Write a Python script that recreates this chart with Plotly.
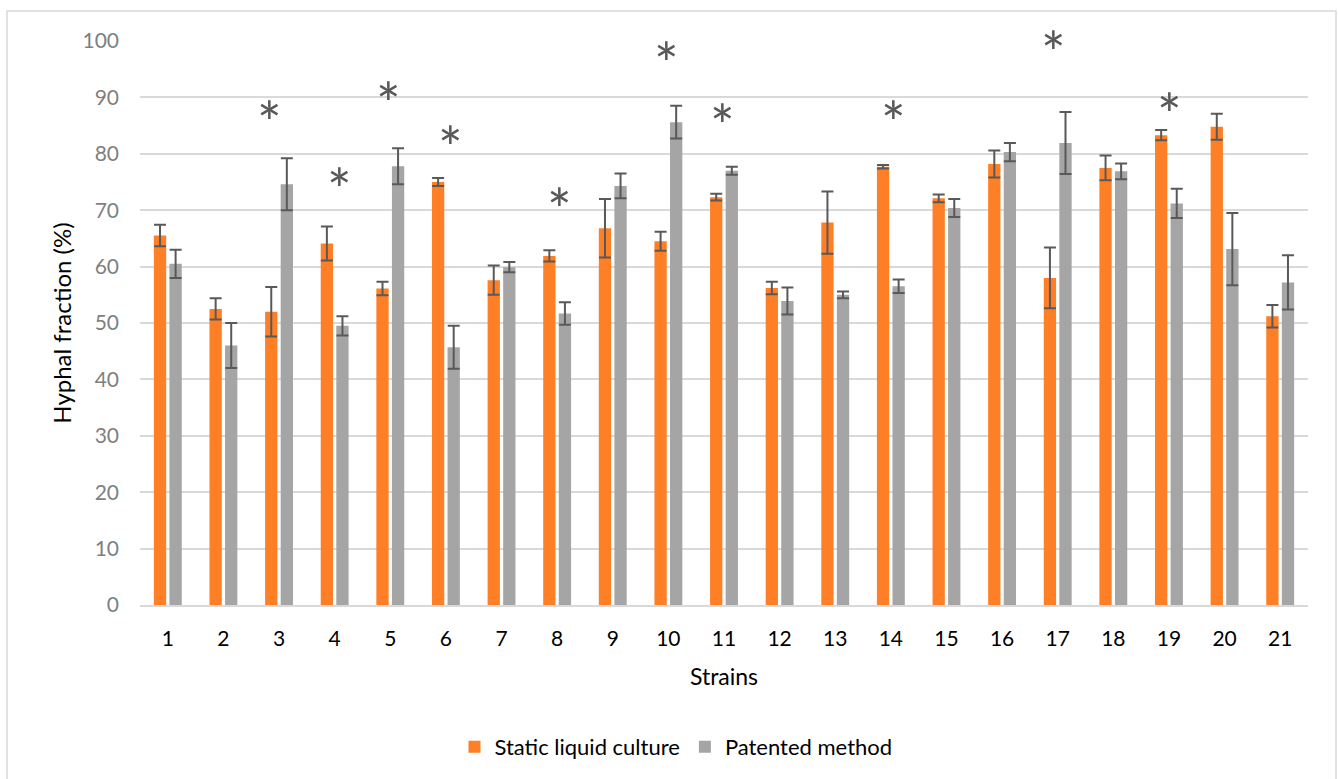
import plotly.graph_objects as go

strains = [str(i) for i in range(1, 22)]
static_mean = [65.5, 52.5, 52.0, 64.1, 56.1, 75.0, 57.6, 61.9, 66.8, 64.5, 72.3,
               56.2, 67.8, 77.7, 72.1, 78.2, 58.0, 77.5, 83.3, 84.8, 51.2]
static_err = [1.9, 1.9, 4.4, 3.0, 1.2, 0.7, 2.6, 1.0, 5.2, 1.7, 0.6,
              1.1, 5.5, 0.3, 0.7, 2.4, 5.4, 2.2, 0.9, 2.3, 2.0]
patent_mean = [60.5, 46.0, 74.6, 49.5, 77.8, 45.7, 59.9, 51.7, 74.3, 85.6, 77.0,
               53.9, 55.0, 56.5, 70.4, 80.3, 81.9, 76.9, 71.2, 63.1, 57.2]
patent_err = [2.5, 4.0, 4.6, 1.7, 3.2, 3.8, 0.9, 2.0, 2.2, 2.9, 0.7,
              2.4, 0.6, 1.2, 1.6, 1.6, 5.5, 1.4, 2.6, 6.4, 4.8]
star_strains = ["3", "4", "5", "6", "8", "10", "11", "14", "17", "19"]
star_level = [87.9, 76.0, 91.3, 83.4, 72.4, 98.3, 87.4, 87.8, 100.2, 89.3]

# style: small horizontal nudges of the asterisks (px)
star_xshift = [-10, 5, -2, 5, 2, -2, -2, 3, -4, 1]

ORANGE = "#FF7F27"
GRAY = "#A5A5A5"
ERR = "#595959"
FONT = "Lato"

W, H = 1338, 779
L, R, T, B = 140, 30, 41, 173
pw, ph = W - L - R, H - T - B
YMAX = 100
px_per_unit = ph / YMAX

def px2paper_x(px):
    return (px - L) / pw

def px2paper_y(py):
    return (H - B - py) / ph

fig = go.Figure()
fig.add_trace(go.Bar(
    x=strains, y=static_mean, name="Static liquid culture",
    marker=dict(color=ORANGE, line=dict(width=0)),
    error_y=dict(type="data", array=static_err, color=ERR, thickness=2, width=6),
))
fig.add_trace(go.Bar(
    x=strains, y=patent_mean, name="Patented method",
    marker=dict(color=GRAY, line=dict(width=0)),
    error_y=dict(type="data", array=patent_err, color=ERR, thickness=2, width=6),
))

for s, lv, dx in zip(star_strains, star_level, star_xshift):
    y_in = min(lv, YMAX - 0.01)
    extra = (lv - y_in) * px_per_unit
    fig.add_annotation(x=strains.index(s), y=y_in, text="*", showarrow=False, xshift=dx,
                       yanchor="middle", yshift=-12 + extra,
                       font=dict(family=FONT, size=58, color=ERR))

fig.add_shape(type="rect", xref="paper", yref="paper",
              x0=px2paper_x(7), x1=px2paper_x(1336),
              y0=px2paper_y(800), y1=px2paper_y(11),
              line=dict(color="#D9D9D9", width=1.5), fillcolor="rgba(0,0,0,0)",
              layer="below")

fig.update_layout(
    width=W, height=H,
    margin=dict(l=L, r=R, t=T, b=B),
    paper_bgcolor="white", plot_bgcolor="white",
    barmode="group", bargap=0.44, bargroupgap=0.21,
    font=dict(family=FONT, size=22, color="#000000"),
    showlegend=True,
    legend=dict(orientation="h", x=px2paper_x(676), xanchor="center", y=px2paper_y(747),
                yanchor="middle", font=dict(family=FONT, size=22, color="#000000"),
                traceorder="normal"),
    xaxis=dict(
        type="category", showgrid=False, showline=True, linecolor="#D9D9D9",
        linewidth=2, ticks="", tickfont=dict(family=FONT, size=21, color="#000000"),
        ticklabelstandoff=14,
        title=dict(text="Strains", font=dict(family=FONT, size=23, color="#000000"),
                   standoff=20),
    ),
    yaxis=dict(
        range=[0, YMAX], dtick=10, showgrid=True, gridcolor="#D9D9D9", gridwidth=1.5,
        zeroline=False, showline=False, ticks="",
        tickfont=dict(family=FONT, size=21, color="#7F7F7F"),
        ticklabelstandoff=20,
        title=dict(text="Hyphal fraction (%)", font=dict(family=FONT, size=24, color="#000000"),
                   standoff=4),
    ),
)

fig.write_html("out.html", config={"displayModeBar": False},
               post_script="document.body.style.margin='0';")
